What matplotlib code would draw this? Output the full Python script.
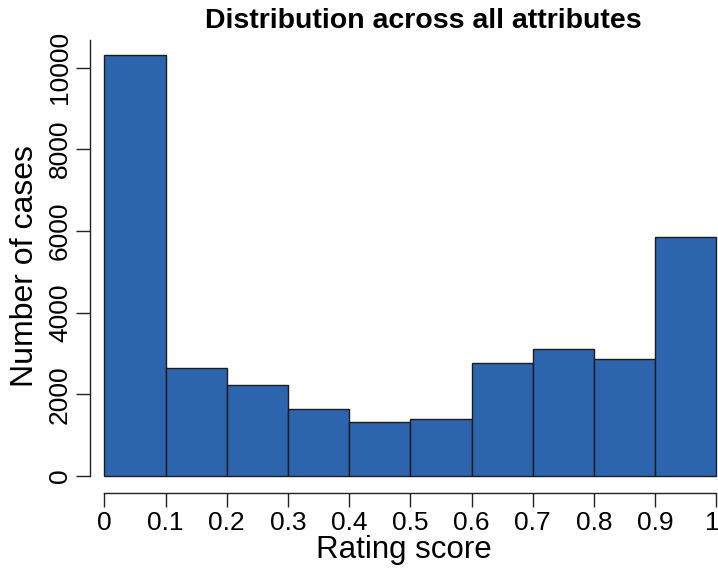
#Histogram of rating scores pooled over every attribute
import matplotlib.pyplot as plt
import matplotlib.transforms as mtransforms
import numpy as np

plt.rcParams['font.family'] = ['Liberation Sans', 'DejaVu Sans']

#Bin edges and counts per bin
bin_edges = [0.0, 0.1, 0.2, 0.3, 0.4, 0.5, 0.6, 0.7, 0.8, 0.9, 1.0]
counts = [10300, 2645, 2220, 1635, 1322, 1390, 2775, 3115, 2865, 5858]
x_ticks = [0, 0.1, 0.2, 0.3, 0.4, 0.5, 0.6, 0.7, 0.8, 0.9, 1]
x_tick_labels = ['0', '0.1', '0.2', '0.3', '0.4', '0.5', '0.6', '0.7', '0.8', '0.9', '1']
y_ticks = [0, 2000, 4000, 6000, 8000, 10000]

W, H = 718, 569
fig = plt.figure(figsize=(W/100, H/100), dpi=100)
#axes box in pixels: left 90, right 718, top 40, bottom 493
ax = fig.add_axes([90/W, 1-493/H, (718-90)/W, (493-40)/H])

lefts = np.array(bin_edges[:-1])
widths = np.diff(bin_edges)
ax.bar(lefts, counts, width=widths, align='edge', color='#2d64ae',
       edgecolor='#1c1c1c', linewidth=1.0)

px_x = 612.0      #pixels per unit on x
px_y = 0.04085    #pixels per case on y
ax.set_xlim(-(104.3-90)/px_x, 1+(718-716.3)/px_x)
ax.set_ylim(-(493-476)/px_y, (476-40)/px_y)

for s in ['top', 'right']:
    ax.spines[s].set_visible(False)
ax.spines['left'].set_bounds(0, (476-40)/px_y)
ax.spines['bottom'].set_bounds(0, 1)
for s in ['left', 'bottom']:
    ax.spines[s].set_linewidth(1.0)
    ax.spines[s].set_color('#222222')

ax.set_xticks(x_ticks)
ax.set_xticklabels(x_tick_labels)
ax.set_yticks(y_ticks)
ax.set_yticklabels([str(v) for v in y_ticks], rotation=90, va='center')
ax.tick_params(axis='both', length=10, width=1.0, color='#222222',
               labelsize=19, pad=3)

#pull the last x label in a little so it stays on the canvas
last = ax.get_xticklabels()[-1]
last.set_transform(last.get_transform() +
                   mtransforms.ScaledTranslation(-4/100, 0, fig.dpi_scale_trans))

ax.set_xlabel('Rating score', fontsize=22.5, labelpad=0)
ax.set_ylabel('Number of cases', fontsize=23, labelpad=6)

fig.text(423.5/W, 1-21/H, 'Distribution across all attributes',
         ha='center', va='center', fontsize=20.5, fontweight='bold')

fig.savefig('out.png', dpi=100)
